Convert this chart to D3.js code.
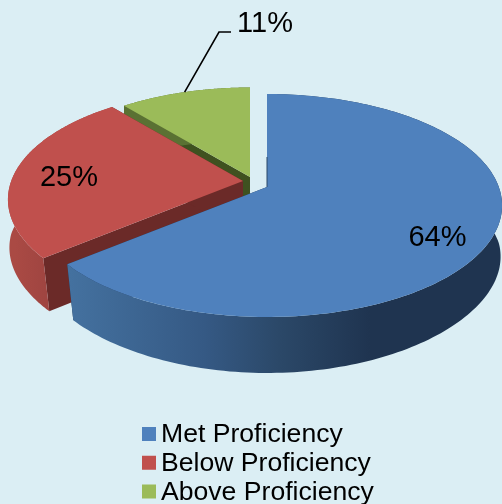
<!DOCTYPE html>
<html><head><meta charset="utf-8">
<script src="https://cdn.jsdelivr.net/npm/d3@7/dist/d3.min.js"></script>
<style>html,body{margin:0;padding:0;background:#dbeef4}svg{display:block;filter:blur(0.4px)}</style>
</head><body><svg id="c" width="502" height="504"></svg>
<script>
const categories = ["Met Proficiency", "Below Proficiency", "Above Proficiency"];
const values = [64, 25, 11];
const labels = ["64%", "25%", "11%"];
const topColors = ["#4f81bd", "#c0504d", "#9bbb59"];
const cutColors = ["#1f3552", "#6b2a28", "#3f5120"];
const apexes = [[267, 187], [243, 181], [250, 177]];
const radii = [1, 1, 0.957];
const depths = [56, 53, 53];
const labelPos = [[437.5, 246], [69, 186], [265, 32]];

const A = 231.8, B = 108.4, K = 0.166, SHRINK_RATE = 0.03 / 77;
const svg = d3.select("#c");
const color = d3.scaleOrdinal().domain(categories).range(topColors);
const cut = d3.scaleOrdinal().domain(categories).range(cutColors);
const slices = d3.pie().sort(null).value(d => d)(values).map((s, i) => ({...s, name: categories[i], apex: apexes[i], r: radii[i], depth: depths[i]}));

const defs = svg.append("defs");
function grad(id, stops, x1, x2) {
  const g = defs.append("linearGradient").attr("id", id).attr("gradientUnits", "userSpaceOnUse")
    .attr("x1", x1).attr("x2", x2).attr("y1", 0).attr("y2", 0);
  stops.forEach(s => g.append("stop").attr("offset", s[0]).attr("stop-color", s[1]));
}
grad("wall0", [[0, "#44719f"], [0.45, "#355984"], [0.7, "#2b4868"], [1, "#1f3450"]], 70, 370);
grad("wall1", [[0, "#a04541"], [1, "#aa4a44"]], 45, 15);
grad("wall2", [[0, "#5a7133"], [1, "#5a7133"]], 0, 500);

function project(s, a) {
  const u = s.r * Math.sin(a), v = -s.r * Math.cos(a), f = 1 / (1 - K * v);
  return [s.apex[0] + A * u * f, s.apex[1] + B * v * f];
}
function lower(s, p) {
  const shrink = 1 - SHRINK_RATE * Math.max(0, p[1] - s.apex[1]);
  return [s.apex[0] + (p[0] - s.apex[0]) * shrink, p[1] + s.depth];
}
const line = d3.line();
const arcPts = s => d3.range(0, 181).map(i => project(s, s.startAngle + (s.endAngle - s.startAngle) * i / 180));

slices.slice().reverse().forEach(s => {
  const i = s.index, g = svg.append("g"), arc = arcPts(s), ax = s.apex;
  const low = arc.map(p => lower(s, p));
  const lowApex = [ax[0], ax[1] + s.depth];
  [arc[0], arc[arc.length - 1]].forEach(p => {
    g.append("path").attr("d", line([ax, p, lower(s, p), lowApex]) + "Z").attr("fill", cut(s.name));
  });
  g.append("path").attr("d", line(arc.concat(low.slice().reverse())) + "Z").attr("fill", `url(#wall${i})`);
  g.append("path").attr("d", line([ax].concat(arc)) + "Z").attr("fill", color(s.name));
});

const blue = slices[0];
svg.append("line").attr("x1", blue.apex[0]).attr("x2", blue.apex[0]).attr("y1", blue.apex[1] - 30).attr("y2", blue.apex[1])
  .attr("stroke", "#2b4868").attr("stroke-width", 1);

const green = slices[2];
const anchor = project(green, (green.startAngle + green.endAngle) / 2);
svg.append("path").attr("d", line([anchor, [219, 32], [231, 32]])).attr("fill", "none").attr("stroke", "#000").attr("stroke-width", 1.6);

svg.selectAll("text.lab").data(labels).join("text").attr("class", "lab")
  .attr("x", (d, i) => labelPos[i][0]).attr("y", (d, i) => labelPos[i][1])
  .attr("text-anchor", "middle").attr("font-family", "Liberation Sans").attr("font-size", 29).attr("fill", "#000").text(d => d);

const legendY = d3.scalePoint().domain(categories).range([442, 499.5]);
const leg = svg.selectAll("g.leg").data(categories).join("g").attr("class", "leg");
leg.append("rect").attr("x", 142).attr("y", d => legendY(d) - 15).attr("width", 14).attr("height", 14).attr("fill", d => color(d));
leg.append("text").attr("x", 161).attr("y", d => legendY(d)).attr("font-family", "Liberation Sans").attr("font-size", 26.6).attr("fill", "#000").text(d => d);
</script></body></html>
